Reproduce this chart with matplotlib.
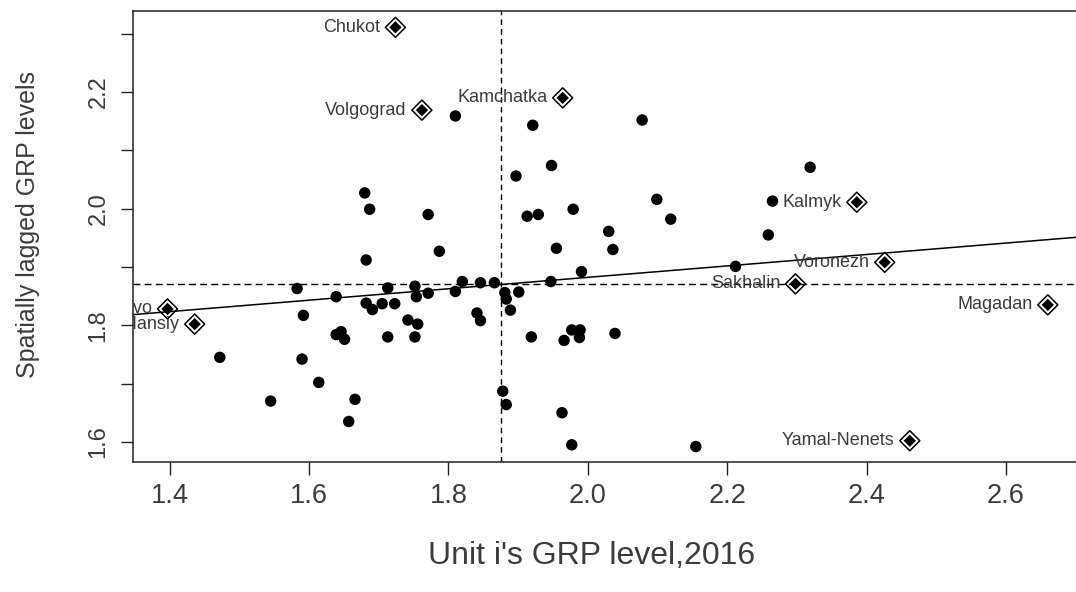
import matplotlib
matplotlib.use("Agg")
import matplotlib.pyplot as plt

plt.rcParams['font.family'] = ['Liberation Sans', 'DejaVu Sans']

# ---- data ----
# ordinary regions (x = unit GRP level 2016, y = spatially lagged GRP level)
grp_x = [1.810, 1.921, 2.078, 1.897, 1.948, 1.680, 1.687, 1.771, 1.913, 1.929,
         1.979, 2.099, 2.119, 2.030, 1.787, 1.682, 1.955, 2.036, 1.991, 2.319,
         2.265, 2.259, 2.212, 1.947, 1.583, 1.639, 1.713, 1.752, 1.754, 1.771,
         1.810, 1.820, 1.846, 1.866, 1.881, 1.883, 1.901, 1.889, 1.841, 1.846,
         1.682, 1.691, 1.705, 1.723, 1.592, 1.742, 1.756, 1.639, 1.646, 1.651,
         1.713, 1.752, 1.919, 1.966, 1.977, 1.989, 1.988, 2.039, 1.472, 1.590,
         1.545, 1.614, 1.666, 1.657, 1.878, 1.883, 1.963, 1.977, 2.155]
lag_y = [2.159, 2.143, 2.152, 2.056, 2.074, 2.027, 1.999, 1.990, 1.987, 1.990,
         1.999, 2.016, 1.982, 1.961, 1.927, 1.912, 1.932, 1.930, 1.892, 2.071,
         2.013, 1.955, 1.901, 1.875, 1.863, 1.849, 1.864, 1.867, 1.849, 1.855,
         1.858, 1.875, 1.873, 1.873, 1.856, 1.845, 1.857, 1.826, 1.821, 1.808,
         1.838, 1.827, 1.837, 1.837, 1.817, 1.809, 1.802, 1.784, 1.789, 1.776,
         1.780, 1.780, 1.780, 1.774, 1.792, 1.792, 1.779, 1.786, 1.745, 1.742,
         1.670, 1.702, 1.673, 1.635, 1.687, 1.664, 1.650, 1.595, 1.592]

# influential (labelled) regions
infl_names = ["Chukot", "Volgograd", "Kamchatka", "Kalmyk", "Voronezh",
              "Sakhalin", "Magadan", "Yamal-Nenets", "Ivanovo", "Khanty-Mansiy"]
infl_x = [1.724, 1.762, 1.964, 2.386, 2.426, 2.298, 2.660, 2.462, 1.397, 1.436]
infl_y = [2.311, 2.169, 2.190, 2.011, 1.908, 1.871, 1.835, 1.602, 1.828, 1.802]

# reference lines
x_mean = 1.875
y_mean = 1.870
fit_intercept = 1.6862
fit_slope = 0.098

x_ticks = [1.4, 1.6, 1.8, 2.0, 2.2, 2.4, 2.6]
y_ticks = [1.6, 1.7, 1.8, 1.9, 2.0, 2.1, 2.2, 2.3]
y_tick_labels = ["1.6", "", "1.8", "", "2.0", "", "2.2", ""]

x_label = "Unit i's GRP level,2016"
y_label = "Spatially lagged GRP levels"

# ---- figure ----
W, H = 1076, 592
fig = plt.figure(figsize=(W / 100, H / 100), dpi=100)
left, right, top, bottom = 133, 1083, 11, 462.3
ax = fig.add_axes([left / W, 1 - bottom / H, (right - left) / W, (bottom - top) / H])

txt_col = '#3c3c3c'

ax.scatter(grp_x, lag_y, s=68, color='black', edgecolors='none', zorder=3)
ax.scatter(infl_x, infl_y, marker='D', s=10.2 ** 2, facecolors='none',
           edgecolors='black', linewidths=1.1, zorder=3)
ax.scatter(infl_x, infl_y, marker='D', s=6.3 ** 2, color='black',
           edgecolors='none', zorder=3)

for name, xv, yv in zip(infl_names, infl_x, infl_y):
    ax.annotate(name, (xv, yv), xytext=(-11, 0), textcoords='offset points',
                ha='right', va='center', fontsize=13, color=txt_col,
                annotation_clip=False, clip_on=True)

ax.axvline(x_mean, color='black', lw=1.0, dashes=(4, 3), zorder=2)
ax.axhline(y_mean, color='black', lw=1.0, dashes=(5, 3), zorder=2)
ax.axline((0, fit_intercept), slope=fit_slope, color='black', lw=1.1, zorder=2)

ax.set_xlim(1.3475, 2.7105)
ax.set_ylim(1.565, 2.339)
ax.set_xticks(x_ticks)
ax.set_xticklabels([f"{v:.1f}" for v in x_ticks])
ax.set_yticks(y_ticks)
ax.set_yticklabels(y_tick_labels, rotation=90, va='center')

ax.tick_params(axis='both', direction='out', length=9, width=1.0, color='#222222',
               labelcolor=txt_col)
ax.tick_params(axis='x', labelsize=19.5, pad=6)
ax.tick_params(axis='y', labelsize=17, pad=8)

for s in ax.spines.values():
    s.set_color('#222222')
    s.set_linewidth(1.1)

ax.set_xlabel(x_label, fontsize=23, color=txt_col)
ax.set_ylabel(y_label, fontsize=18, color=txt_col)
ax.xaxis.set_label_coords((592 - left) / (right - left), -(556 - bottom) / (bottom - top))
ax.yaxis.set_label_coords(-(left - 28) / (right - left), (bottom - 224) / (bottom - top))
ax.xaxis.label.set_va('center')
ax.yaxis.label.set_va('center')

fig.savefig("out.png", dpi=100)
